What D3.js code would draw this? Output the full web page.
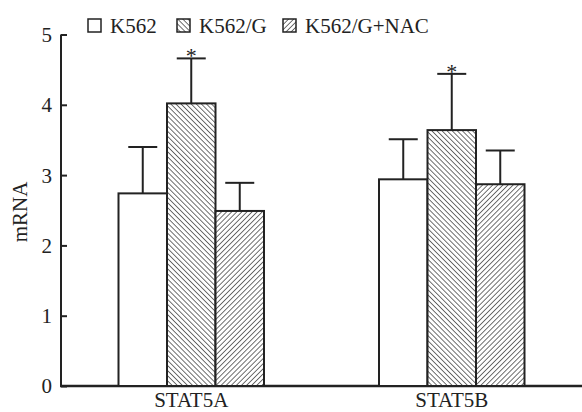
<!DOCTYPE html>
<html>
<head>
<meta charset="utf-8">
<script src="https://cdn.jsdelivr.net/npm/d3@7"></script>
<style>
  body { margin: 0; background: #fff; }
  text { font-family: "Liberation Serif", "Times New Roman", serif; fill: #222; }
</style>
</head>
<body>
<svg width="582" height="412"></svg>
<script>
// data
const genes = ["STAT5A", "STAT5B"];
const groups = ["K562", "K562/G", "K562/G+NAC"];
const means = {
  STAT5A: [2.74, 4.02, 2.49],
  STAT5B: [2.94, 3.64, 2.87],
};
const upper = {
  STAT5A: [3.40, 4.66, 2.89],
  STAT5B: [3.51, 4.44, 3.35],
};
const starred = {
  STAT5A: [false, true, false],
  STAT5B: [false, true, false],
};
const yTicks = [0, 1, 2, 3, 4, 5];

const svg = d3.select("svg");
const ink = "#222";
const FONT = "21px";

const margin = { left: 61, right: 0, top: 34.5, bottom: 26 };
const width = 582, height = 412;

const x = d3.scalePoint().domain(genes).range([margin.left, width]).padding(0.5);
const y = d3.scaleLinear().domain([0, 5]).range([height - margin.bottom, margin.top]);
const barW = 48.5;
const xi = d3.scaleBand().domain(groups).range([-barW * 1.5, barW * 1.5]);

// hatch patterns
const defs = svg.append("defs");
function hatch(id, dir) {
  const p = defs.append("pattern")
    .attr("id", id)
    .attr("patternUnits", "userSpaceOnUse")
    .attr("width", 3.6).attr("height", 3.6)
    .attr("patternTransform", `rotate(${dir})`);
  p.append("rect").attr("width", 3.6).attr("height", 3.6).attr("fill", "#fff");
  p.append("line").attr("x1", 0).attr("y1", 0).attr("x2", 0).attr("y2", 3.6)
    .attr("stroke", "#333").attr("stroke-width", 1.4);
}
hatch("back", -45);
hatch("fwd", 45);
const fills = ["#fff", "url(#back)", "url(#fwd)"];

// axes
const yAxis = svg.append("g")
  .attr("transform", `translate(${margin.left},0)`)
  .call(d3.axisRight(y).tickValues(yTicks).tickSize(6).tickFormat(d3.format("d")));
yAxis.select(".domain").remove();
yAxis.selectAll(".tick line").attr("stroke", ink).attr("stroke-width", 2);
yAxis.selectAll(".tick text")
  .attr("x", -9).attr("text-anchor", "end").attr("dy", "0.33em")
  .style("font-size", FONT).attr("fill", ink);

svg.append("line")
  .attr("x1", margin.left).attr("x2", margin.left)
  .attr("y1", y(5)).attr("y2", y(0))
  .attr("stroke", ink).attr("stroke-width", 2);

svg.append("line")
  .attr("x1", margin.left - 1).attr("x2", width)
  .attr("y1", y(0)).attr("y2", y(0))
  .attr("stroke", ink).attr("stroke-width", 2.5);

svg.selectAll(".xlab")
  .data(genes)
  .join("text")
  .attr("x", (d) => x(d))
  .attr("y", 407)
  .attr("text-anchor", "middle")
  .style("font-size", FONT)
  .text((d) => d);

svg.append("text")
  .attr("transform", `translate(27,212) rotate(-90)`)
  .attr("text-anchor", "middle")
  .style("font-size", FONT)
  .text("mRNA");

// bars
const rows = genes.flatMap((g) =>
  groups.map((k, i) => ({ gene: g, key: k, i, v: means[g][i], up: upper[g][i], star: starred[g][i] }))
);
const bx = (d) => x(d.gene) + xi(d.key);

svg.append("g").selectAll("rect")
  .data(rows)
  .join("rect")
  .attr("x", bx)
  .attr("y", (d) => y(d.v))
  .attr("width", barW)
  .attr("height", (d) => y(0) - y(d.v))
  .attr("fill", (d) => fills[d.i])
  .attr("stroke", ink)
  .attr("stroke-width", 2);

// error bars
const err = svg.append("g").attr("stroke", ink).attr("stroke-width", 2);
err.selectAll(".stem")
  .data(rows)
  .join("line")
  .attr("x1", (d) => bx(d) + barW / 2).attr("x2", (d) => bx(d) + barW / 2)
  .attr("y1", (d) => y(d.v)).attr("y2", (d) => y(d.up));
err.selectAll(".cap")
  .data(rows)
  .join("line")
  .attr("x1", (d) => bx(d) + barW / 2 - 14.5).attr("x2", (d) => bx(d) + barW / 2 + 14.5)
  .attr("y1", (d) => y(d.up)).attr("y2", (d) => y(d.up));

svg.selectAll(".star")
  .data(rows.filter((d) => d.star))
  .join("text")
  .attr("x", (d) => bx(d) + barW / 2)
  .attr("y", (d) => y(d.up) + 5)
  .attr("text-anchor", "middle")
  .style("font-size", "22px")
  .text("*");

// legend
const legX = [88, 177, 283];
const leg = svg.append("g").selectAll("g")
  .data(groups)
  .join("g")
  .attr("transform", (d, i) => `translate(${legX[i]},19)`);
leg.append("rect")
  .attr("width", 13).attr("height", 13)
  .attr("fill", (d, i) => fills[i])
  .attr("stroke", ink).attr("stroke-width", 1.5);
leg.append("text")
  .attr("x", 22).attr("y", 13.5)
  .style("font-size", FONT)
  .text((d) => d);
</script>
</body>
</html>
